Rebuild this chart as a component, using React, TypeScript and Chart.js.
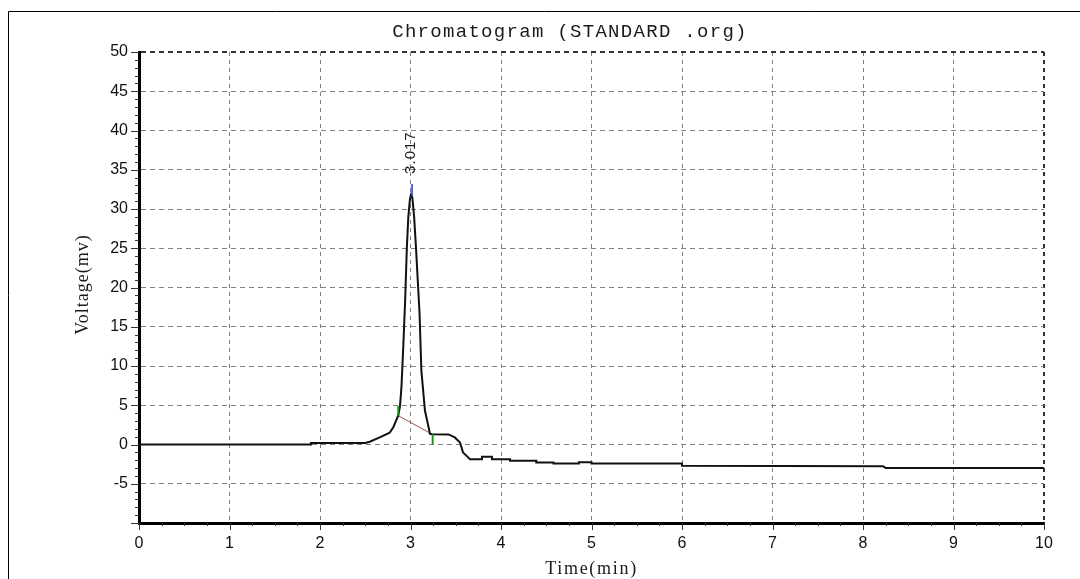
import { useEffect, useRef } from "react";
import { Chart, registerables } from "chart.js";

Chart.register(...registerables);

// ---- Data ----
const timeMin = [
  0, 1.9, 1.9, 2.5, 2.55, 2.66, 2.77, 2.81, 2.85, 2.865, 2.884, 2.9, 2.92, 2.94, 2.96, 2.976,
  2.994, 3.005, 3.02, 3.04, 3.06, 3.1, 3.12, 3.16, 3.2, 3.215, 3.24, 3.42, 3.49, 3.547, 3.58,
  3.62, 3.657, 3.787, 3.79, 3.9, 3.9, 4.1, 4.1, 4.39, 4.39, 4.58, 4.58, 4.86, 4.86, 5.0, 5.0,
  6.0, 6.0, 8.22, 8.25, 10,
];
const voltageMv = [
  0, 0, 0.2, 0.2, 0.35, 0.9, 1.5, 2.2, 3.3, 3.7, 4.9, 7.3, 12.4, 18.1, 25.2, 29.0,
  31.3, 31.8, 31.5, 29.0, 25.2, 16.7, 9.4, 4.3, 2.2, 1.36, 1.3, 1.28, 0.9, 0.26, -1.0,
  -1.45, -1.87, -1.87, -1.57, -1.57, -1.87, -1.87, -2.08, -2.08, -2.3, -2.3, -2.42, -2.42, -2.25, -2.25, -2.42,
  -2.42, -2.72, -2.76, -2.98, -2.98,
];

const baselineTimes = [2.86, 3.24];
const baselineVolts = [3.7, 1.3];
const peakStartTimes = [2.865, 2.865];
const peakStartVolts = [3.7, 4.9];
const peakEndTimes = [3.245, 3.245];
const peakEndVolts = [1.3, 0.0];
const apexTimes = [3.017, 3.017];
const apexVolts = [31.6, 33.2];
const peakLabel = "3.017";

const xMin = 0;
const xMax = 10;
const xStep = 1;
const xMinorStep = 0.25;
const yMin = -10;
const yMax = 50;
const yStep = 5;
const yMinorStep = 1;

const titleText = "Chromatogram (STANDARD .org)";
const xTitle = "Time(min)";
const yTitle = "Voltage(mv)";

const pts = (xs: number[], ys: number[]) => xs.map((x, i) => ({ x, y: ys[i] }));

const decorPlugin = {
  id: "decor",
  afterDraw(chart: any) {
    const { ctx, chartArea, scales } = chart;
    const xs = scales.x;
    const ys = scales.y;
    ctx.save();
    // outer frame
    ctx.strokeStyle = "#000";
    ctx.lineWidth = 1;
    ctx.beginPath();
    ctx.moveTo(8.5, 579);
    ctx.lineTo(8.5, 11.5);
    ctx.lineTo(1080, 11.5);
    ctx.stroke();

    // y ticks (major + minor)
    ctx.strokeStyle = "#333";
    ctx.lineWidth = 1;
    ctx.beginPath();
    for (let v = yMin; v <= yMax + 1e-9; v += yMinorStep) {
      const py = Math.round(ys.getPixelForValue(v)) + 0.5;
      const major = Math.abs(v % yStep) < 1e-9;
      const len = major ? 8 : 4;
      ctx.moveTo(chartArea.left - len, py);
      ctx.lineTo(chartArea.left, py);
    }
    // x ticks
    for (let t = xMin; t <= xMax + 1e-9; t += xMinorStep) {
      const px = Math.round(xs.getPixelForValue(t)) + 0.5;
      const major = Math.abs(t - Math.round(t)) < 1e-9;
      const len = major ? 7 : 3;
      ctx.moveTo(px, chartArea.bottom);
      ctx.lineTo(px, chartArea.bottom + len);
    }
    ctx.stroke();

    // title
    ctx.fillStyle = "#1a1a1a";
    ctx.textAlign = "center";
    ctx.textBaseline = "middle";
    (ctx as any).letterSpacing = "1.3px";
    ctx.font = '19px "Liberation Mono"';
    ctx.fillText(titleText, 570, 32);

    // x title
    (ctx as any).letterSpacing = "1.7px";
    ctx.font = '18px "Liberation Serif"';
    ctx.fillText(xTitle, (chartArea.left + chartArea.right) / 2, 569);

    // y title
    ctx.save();
    ctx.translate(83, (chartArea.top + chartArea.bottom) / 2 - 3);
    ctx.rotate(-Math.PI / 2);
    (ctx as any).letterSpacing = "1px";
    ctx.fillText(yTitle, 0, 0);
    ctx.restore();

    // peak label
    ctx.save();
    const lx = xs.getPixelForValue(apexTimes[0]) - 1;
    const ly = ys.getPixelForValue(apexVolts[1]) - 10;
    ctx.translate(lx, ly);
    ctx.rotate(-Math.PI / 2);
    (ctx as any).letterSpacing = "1px";
    ctx.font = '15px "Liberation Sans"';
    ctx.textAlign = "left";
    ctx.fillStyle = "#1a1a1a";
    ctx.fillText(peakLabel, 0, 0);
    ctx.restore();

    ctx.restore();
  },
};

export default function App() {
  const ref = useRef<HTMLCanvasElement>(null);

  useEffect(() => {
    const canvas = ref.current;
    if (!canvas) return;
    const chart = new Chart(canvas, {
      type: "scatter",
      data: {
        datasets: [
          {
            data: pts(timeMin, voltageMv),
            showLine: true,
            borderColor: "#111",
            borderWidth: 2,
            pointRadius: 0,
            tension: 0,
            order: 1,
          },
          {
            data: pts(baselineTimes, baselineVolts),
            showLine: true,
            borderColor: "#a05050",
            borderWidth: 1,
            pointRadius: 0,
            order: 2,
          },
          {
            data: pts(peakStartTimes, peakStartVolts),
            showLine: true,
            borderColor: "#1a9a1a",
            borderWidth: 2,
            pointRadius: 0,
            order: 0,
          },
          {
            data: pts(peakEndTimes, peakEndVolts),
            showLine: true,
            borderColor: "#1a9a1a",
            borderWidth: 2,
            pointRadius: 0,
            order: 0,
          },
          {
            data: pts(apexTimes, apexVolts),
            showLine: true,
            borderColor: "#2030e0",
            borderWidth: 1.5,
            pointRadius: 0,
            order: 0,
          },
        ],
      },
      options: {
        animation: false,
        responsive: false,
        devicePixelRatio: 1,
        layout: { padding: { left: 0, right: 36, top: 52, bottom: 0 } },
        plugins: {
          legend: { display: false },
          tooltip: { enabled: false },
          title: { display: false },
        },
        events: [],
        scales: {
          x: {
            type: "linear",
            position: "bottom",
            min: xMin,
            max: xMax,
            afterFit: (s: any) => {
              s.height = 56;
            },
            ticks: {
              stepSize: xStep,
              color: "#111",
              font: { family: '"Liberation Sans"', size: 16 },
              padding: 11,
              maxRotation: 0,
            },
            grid: {
              drawTicks: false,
              color: (c: any) =>
                c.tick && c.tick.value === xMin ? "rgba(0,0,0,0)" : c.tick && c.tick.value === xMax ? "#333" : "#808080",
              lineWidth: (c: any) => (c.tick && c.tick.value === xMax ? 2 : 1),
            },
            border: { display: true, color: "#000", width: 3, dash: [4, 4] },
          },
          y: {
            type: "linear",
            min: yMin,
            max: yMax,
            afterFit: (s: any) => {
              s.width = 139;
            },
            ticks: {
              stepSize: yStep,
              color: "#111",
              font: { family: '"Liberation Sans"', size: 16 },
              padding: 11,
              callback: (v: any) => (v === yMin ? "" : String(v)),
            },
            grid: {
              drawTicks: false,
              color: (c: any) =>
                c.tick && c.tick.value === yMin ? "rgba(0,0,0,0)" : c.tick && c.tick.value === yMax ? "#333" : "#808080",
              lineWidth: (c: any) => (c.tick && c.tick.value === yMax ? 2 : 1),
            },
            border: { display: true, color: "#000", width: 3, dash: [5, 4] },
          },
        },
      },
      plugins: [decorPlugin],
    });
    return () => chart.destroy();
  }, []);

  return (
    <div style={{ position: "absolute", left: 0, top: 0, width: 1080, height: 579, background: "#fff" }}>
      <canvas ref={ref} width={1080} height={579} style={{ display: "block" }} />
    </div>
  );
}
